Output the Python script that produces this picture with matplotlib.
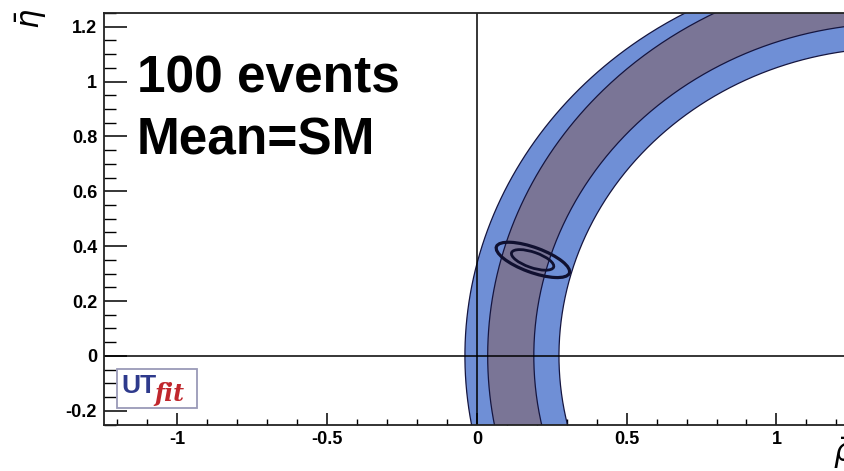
import numpy as np
import matplotlib
matplotlib.use("Agg")
import matplotlib.pyplot as plt
from matplotlib.patches import Polygon, Ellipse, Rectangle
from matplotlib.ticker import MultipleLocator, FuncFormatter

plt.rcParams['font.family'] = ['Liberation Sans', 'DejaVu Sans']

# ---------------- data ----------------
x_limits = [-1.245, 1.229]
y_limits = [-0.25, 1.25]

# band edges (circles): outer-left, dark-left, dark-right, inner-right
edge_cx = [1.39, 1.446, 1.403, 1.397]
edge_cy = [0.0, 0.0, 0.0, 0.0]
edge_r = [1.43, 1.41, 1.213, 1.123]

# fit contours (ellipses): centre, full widths, heights, angle
ell_cx = [0.187, 0.186]
ell_cy = [0.350, 0.350]
ell_w = [0.262, 0.150]
ell_h = [0.090, 0.056]
ell_angle = [-22.0, -21.0]

text_lines = ["100 events", "Mean=SM"]

# ---------------- figure ----------------
W, H = 845, 471
fig = plt.figure(figsize=(W / 100, H / 100), dpi=100)
fig.patch.set_facecolor('white')
ax = fig.add_axes([104 / W, (H - 424.5) / H, (W - 104) / W, (424.5 - 13) / H])
ax.set_xlim(x_limits)
ax.set_ylim(y_limits)

light = '#6f8fd6'
dark = '#7a7596'
edge_col = '#15153f'

theta = np.linspace(np.pi / 2, 3 * np.pi / 2, 600)

def arc(i):
    return np.column_stack([edge_cx[i] + edge_r[i] * np.cos(theta),
                            edge_cy[i] + edge_r[i] * np.sin(theta)])

a0, a1, a2, a3 = (arc(i) for i in range(4))
ax.add_patch(Polygon(np.vstack([a0, a3[::-1]]), closed=True,
                     facecolor=light, edgecolor='none', zorder=1))
ax.add_patch(Polygon(np.vstack([a1, a2[::-1]]), closed=True,
                     facecolor=dark, edgecolor='none', zorder=2))
for a in (a0, a1, a2, a3):
    ax.plot(a[:, 0], a[:, 1], color=edge_col, lw=0.9, zorder=3)

for cx, cy, w, h, ang, lw in zip(ell_cx, ell_cy, ell_w, ell_h, ell_angle, [2.3, 2.0]):
    ax.add_patch(Ellipse((cx, cy), w, h, angle=ang, facecolor='none',
                         edgecolor='#101030', lw=lw, zorder=4))

ax.axhline(0, color='black', lw=1.1, zorder=5)
ax.axvline(0, color='black', lw=1.1, zorder=5)

# ---------------- axes styling ----------------
for s in ['left', 'bottom', 'top']:
    ax.spines[s].set_linewidth(1.3)
    ax.spines[s].set_color('#222222')
    ax.spines[s].set_zorder(6)
ax.spines['right'].set_visible(False)

ax.xaxis.set_major_locator(MultipleLocator(0.5))
ax.xaxis.set_minor_locator(MultipleLocator(0.1))
ax.yaxis.set_major_locator(MultipleLocator(0.2))
ax.yaxis.set_minor_locator(MultipleLocator(0.05))
fmt = FuncFormatter(lambda v, p: ('%g' % round(v, 3)) if abs(v) > 1e-9 else '0')
ax.xaxis.set_major_formatter(fmt)
ax.yaxis.set_major_formatter(fmt)

ax.tick_params(axis='x', which='major', direction='in', length=8.6, width=1.1,
               pad=5, labelsize=13, top=False)
ax.tick_params(axis='x', which='minor', direction='in', length=4.3, width=1.0, top=False)
ax.tick_params(axis='y', which='major', direction='in', length=16.5, width=1.1,
               pad=5, labelsize=13, right=False)
ax.tick_params(axis='y', which='minor', direction='in', length=8.6, width=1.0, right=False)
for lab in ax.get_xticklabels() + ax.get_yticklabels():
    lab.set_fontweight('bold')

# ---------------- texts ----------------
fig.text(137 / W, 1 - 79 / H, text_lines[0], fontsize=37, fontweight='bold',
         va='center', ha='left')
fig.text(137 / W, 1 - 141 / H, text_lines[1], fontsize=37, fontweight='bold',
         va='center', ha='left')

fig.text(31 / W, 1 - 19 / H, r'$\bar{\eta}$', rotation=90, fontsize=22,
         ha='center', va='center')
fig.text(833 / W, 1 - 436 / H, r'$\bar{\rho}$', fontsize=22, ha='left', va='top')

# UTfit logo
fig.patches.append(Rectangle((117 / W, (H - 408) / H), 80 / W, 39 / H,
                             transform=fig.transFigure, facecolor='white',
                             edgecolor='#9a9ab8', lw=1.3, zorder=10))
fig.text(121 / W, 1 - 393 / H, 'UT', fontsize=19, fontweight='bold',
         color='#2e3a8c', ha='left', va='baseline', zorder=11)
fig.text(154 / W, 1 - 401 / H, 'fit', fontsize=17, fontweight='bold',
         fontstyle='italic', family='DejaVu Serif', color='#c0272d',
         ha='left', va='baseline', zorder=11)

fig.savefig('out.png', dpi=100)
